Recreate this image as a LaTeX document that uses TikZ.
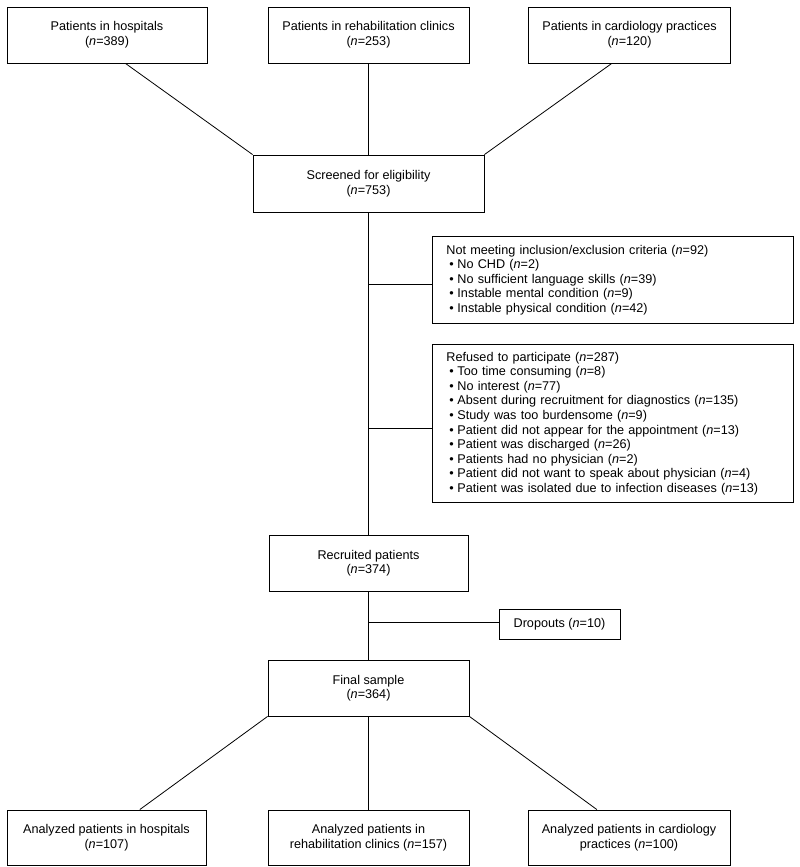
\documentclass[tikz,border=0pt]{standalone}
\usepackage{fontspec}
\usetikzlibrary{calc}
\setmainfont{Liberation Sans}
\newcommand\boxfont{\fontsize{12.65}{14.55}\selectfont}
\newcommand\bul{\hspace*{3pt}\textbullet\hspace{3.6pt}}
\begin{document}
\begin{tikzpicture}[x=1pt,y=-1pt,
  box/.style={draw, line width=0.9pt, align=center, inner sep=0pt, font=\boxfont},
  listbox/.style={draw, line width=0.9pt, align=left, inner xsep=14pt, inner ysep=0pt,
    text width=333pt, font=\boxfont, anchor=north west},
  conn/.style={line width=0.8pt}]
\path[use as bounding box] (0,0) rectangle (800,867);

% top row
\node[box, minimum width=200pt, minimum height=56pt] (hosp) at (107,35)
  {Patients in hospitals\\(\textit{n}=389)};
\node[box, minimum width=201pt, minimum height=56pt] (rehab) at (368.5,35)
  {Patients in rehabilitation clinics\\(\textit{n}=253)};
\node[box, minimum width=202pt, minimum height=56pt] (cardio) at (629.5,35)
  {Patients in cardiology practices\\(\textit{n}=120)};

\node[box, minimum width=231pt, minimum height=57pt] (screen) at (368.5,183.5)
  {Screened for eligibility\\(\textit{n}=753)};

\node[listbox, minimum height=87pt] (notmeet) at (432,236)
  {Not meeting inclusion/exclusion criteria (\textit{n}=92)\\
   \bul No CHD (\textit{n}=2)\\
   \bul No sufficient language skills (\textit{n}=39)\\
   \bul Instable mental condition (\textit{n}=9)\\
   \bul Instable physical condition (\textit{n}=42)};

\node[listbox, minimum height=158pt] (refused) at (432,344)
  {Refused to participate (\textit{n}=287)\\
   \bul Too time consuming (\textit{n}=8)\\
   \bul No interest (\textit{n}=77)\\
   \bul Absent during recruitment for diagnostics (\textit{n}=135)\\
   \bul Study was too burdensome (\textit{n}=9)\\
   \bul Patient did not appear for the appointment (\textit{n}=13)\\
   \bul Patient was discharged (\textit{n}=26)\\
   \bul Patients had no physician (\textit{n}=2)\\
   \bul Patient did not want to speak about physician (\textit{n}=4)\\
   \bul Patient was isolated due to infection diseases (\textit{n}=13)};

\node[box, minimum width=199pt, minimum height=56pt] (recruit) at (368.5,563)
  {Recruited patients\\(\textit{n}=374)};

\node[box, minimum width=121pt, minimum height=30pt] (drop) at (559.5,624)
  {Dropouts (\textit{n}=10)};

\node[box, minimum width=201pt, minimum height=56pt] (final) at (368.5,688)
  {Final sample\\(\textit{n}=364)};

% bottom row
\node[box, minimum width=199pt, minimum height=55pt] (hospA) at (106.5,837.5)
  {Analyzed patients in hospitals\\(\textit{n}=107)};
\node[box, minimum width=201pt, minimum height=55pt] (rehabA) at (368.5,837.5)
  {Analyzed patients in\\rehabilitation clinics (\textit{n}=157)};
\node[box, minimum width=202pt, minimum height=55pt] (cardioA) at (629,837.5)
  {Analyzed patients in cardiology\\practices (\textit{n}=100)};

% connectors
\draw[conn] (hosp.-57.3) -- (screen.north west);
\draw[conn] (rehab.south) -- (screen.north);
\draw[conn] (cardio.-122) -- (screen.north east);

\draw[conn] (screen.south) -- (recruit.north);
\coordinate (e1) at ($(notmeet.west)+(0,4)$);
\coordinate (e2) at ($(refused.west)+(0,5)$);
\coordinate (b1) at (e1 -| screen.south);
\coordinate (b2) at (e2 -| screen.south);
\draw[conn] (b1) -- (e1);
\draw[conn] (b2) -- (e2);

\draw[conn] (recruit.south) -- (final.north);
\coordinate (e3) at ($(drop.west)+(0,-1.5)$);
\coordinate (b3) at (e3 -| recruit.south);
\draw[conn] (b3) -- (e3);

\draw[conn] (final.south west) -- (hospA.40.2);
\draw[conn] (final.south) -- (rehabA.north);
\draw[conn] (final.south east) -- (cardioA.139.3);
\end{tikzpicture}
\end{document}
